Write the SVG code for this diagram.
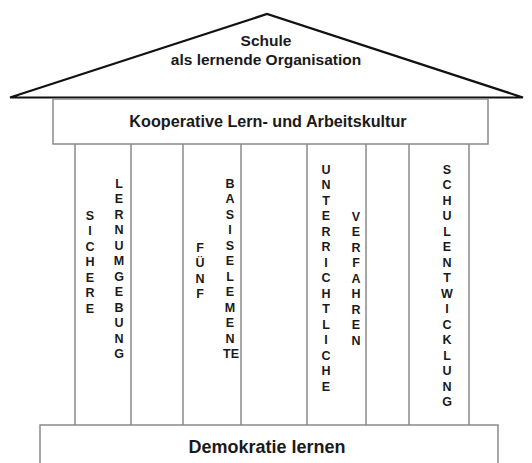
<svg xmlns="http://www.w3.org/2000/svg" width="532" height="463" viewBox="0 0 532 463">
<style>
.t{font-family:"Liberation Sans",Arial,sans-serif;font-weight:bold;fill:#1a1a1a;text-anchor:middle}
.v{font-size:12.5px}
.box{fill:#fff;stroke:#8a8a8a;stroke-width:1.5}
.col{stroke:#8a8a8a;stroke-width:1.5;fill:none}
</style>
<rect width="532" height="463" fill="#fff"/>
<g id="roof">
<polygon points="10,97.5 267,14 523,97.5" fill="#fff" stroke="#111" stroke-width="2.2" stroke-linejoin="miter"/>
<text class="t" x="266" y="46" font-size="15.5">Schule</text>
<text class="t" x="266" y="65" font-size="15.5">als lernende Organisation</text>
</g>
<g id="kultur">
<rect class="box" x="53" y="99" width="435" height="45"/>
<text class="t" x="268" y="127" font-size="16.2">Kooperative Lern- und Arbeitskultur</text>
</g>
<g id="columns">
<path class="col" d="M75,144V425M131,144V425M183,144V425M241,144V425M307,144V425M366,144V425M409,144V425M469,144V425"/>
</g>
<g id="p1" class="t v">
<text x="90" y="219.5">S</text><text x="90" y="235">I</text><text x="90" y="250.5">C</text><text x="90" y="266">H</text><text x="90" y="281.5">E</text><text x="90" y="297">R</text><text x="90" y="312.5">E</text>
<text x="119" y="187.5">L</text><text x="119" y="203">E</text><text x="119" y="218.5">R</text><text x="119" y="234">N</text><text x="119" y="249.5">U</text><text x="119" y="265">M</text><text x="119" y="280.5">G</text><text x="119" y="296">E</text><text x="119" y="311.5">B</text><text x="119" y="327">U</text><text x="119" y="342.5">N</text><text x="119" y="358">G</text>
</g>
<g id="p2" class="t v">
<text x="200" y="251.5">F</text><text x="200" y="267">Ü</text><text x="200" y="282.5">N</text><text x="200" y="298">F</text>
<text x="230" y="187.5">B</text><text x="230" y="203">A</text><text x="230" y="218.5">S</text><text x="230" y="234">I</text><text x="230" y="249.5">S</text><text x="230" y="265">E</text><text x="230" y="280.5">L</text><text x="230" y="296">E</text><text x="230" y="311.5">M</text><text x="230" y="327">E</text><text x="230" y="342.5">N</text><text x="231" y="358">TE</text>
</g>
<g id="p3" class="t v">
<text x="326" y="173.5">U</text><text x="326" y="189">N</text><text x="326" y="204.5">T</text><text x="326" y="220">E</text><text x="326" y="235.5">R</text><text x="326" y="251">R</text><text x="326" y="266.5">I</text><text x="326" y="282">C</text><text x="326" y="297.5">H</text><text x="326" y="313">T</text><text x="326" y="328.5">L</text><text x="326" y="344">I</text><text x="326" y="359.5">C</text><text x="326" y="375">H</text><text x="326" y="390.5">E</text>
<text x="356" y="220.5">V</text><text x="356" y="236">E</text><text x="356" y="251.5">R</text><text x="356" y="267">F</text><text x="356" y="282.5">A</text><text x="356" y="298">H</text><text x="356" y="313.5">R</text><text x="356" y="329">E</text><text x="356" y="344.5">N</text>
</g>
<g id="p4" class="t v">
<text x="447" y="173.5">S</text><text x="447" y="189">C</text><text x="447" y="204.5">H</text><text x="447" y="220">U</text><text x="447" y="235.5">L</text><text x="447" y="251">E</text><text x="447" y="266.5">N</text><text x="447" y="282">T</text><text x="447" y="297.5">W</text><text x="447" y="313">I</text><text x="447" y="328.5">C</text><text x="447" y="344">K</text><text x="447" y="359.5">L</text><text x="447" y="375">U</text><text x="447" y="390.5">N</text><text x="447" y="406">G</text>
</g>
<g id="base">
<rect class="box" x="40" y="425" width="458" height="45"/>
<text class="t" x="267" y="453" font-size="18">Demokratie lernen</text>
</g>
</svg>
